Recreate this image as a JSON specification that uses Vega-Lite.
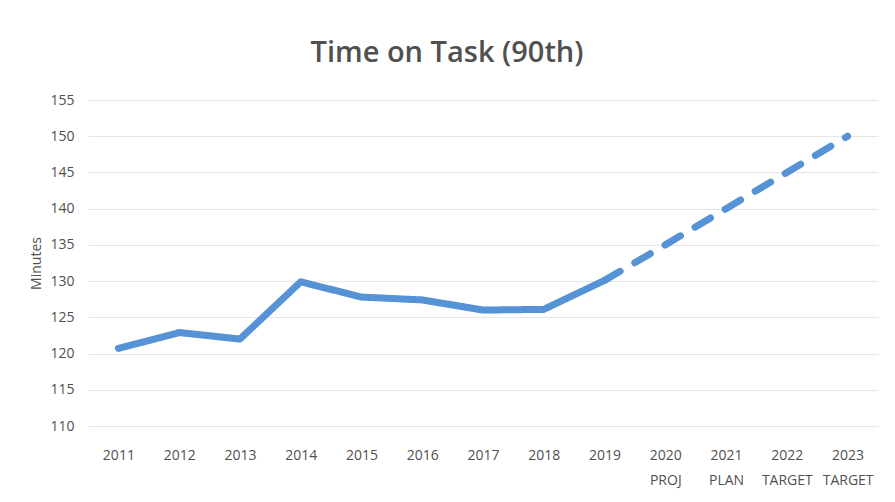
{
  "$schema": "https://vega.github.io/schema/vega-lite/v6.json",
  "width": 790,
  "height": 326,
  "autosize": {"type": "none"},
  "padding": {"left": 88, "top": 100, "right": 17, "bottom": 76},
  "background": "white",
  "title": {
    "text": "Time on Task (90th)",
    "fontSize": 29,
    "font": "Open Sans",
    "fontWeight": 600,
    "color": "#505050",
    "anchor": "middle",
    "dx": -36,
    "offset": 25
  },
  "data": {
    "values": [
      {"year": "2011", "minutes": 120.7, "segment": "actual"},
      {"year": "2012", "minutes": 122.9, "segment": "actual"},
      {"year": "2013", "minutes": 122.0, "segment": "actual"},
      {"year": "2014", "minutes": 129.9, "segment": "actual"},
      {"year": "2015", "minutes": 127.8, "segment": "actual"},
      {"year": "2016", "minutes": 127.4, "segment": "actual"},
      {"year": "2017", "minutes": 126.0, "segment": "actual"},
      {"year": "2018", "minutes": 126.1, "segment": "actual"},
      {"year": "2019", "minutes": 130.1, "segment": "actual"},
      {"year": "2019", "minutes": 130.1, "segment": "projected"},
      {"year": "2020 PROJ", "minutes": 135.0, "segment": "projected"},
      {"year": "2021 PLAN", "minutes": 140.0, "segment": "projected"},
      {"year": "2022 TARGET", "minutes": 145.0, "segment": "projected"},
      {"year": "2023 TARGET", "minutes": 150.0, "segment": "projected"}
    ]
  },
  "mark": {"type": "line", "strokeWidth": 7, "color": "#5593d6", "strokeCap": "round", "strokeJoin": "round"},
  "encoding": {
    "x": {
      "field": "year",
      "type": "ordinal",
      "sort": null,
      "scale": {"type": "point", "padding": 0.5},
      "axis": {
        "title": null,
        "labelAngle": 0,
        "labelExpr": "split(datum.label, ' ')",
        "labelFont": "Open Sans",
        "labelFontSize": 14,
        "labelColor": "#505050",
        "labelPadding": 22,
        "labelLineHeight": 25,
        "domain": false,
        "ticks": false,
        "grid": false
      }
    },
    "y": {
      "field": "minutes",
      "type": "quantitative",
      "scale": {"domain": [110, 155], "nice": false, "zero": false},
      "axis": {
        "title": "Minutes",
        "titleFont": "Open Sans",
        "titleFontWeight": "normal",
        "titleFontSize": 14,
        "titleColor": "#505050",
        "titlePadding": 6,
        "values": [110, 115, 120, 125, 130, 135, 140, 145, 150, 155],
        "labelFont": "Open Sans",
        "labelFontSize": 14,
        "labelColor": "#505050",
        "labelPadding": 14,
        "domain": false,
        "ticks": false,
        "gridColor": "#e6e6e6",
        "gridWidth": 1
      }
    },
    "strokeDash": {
      "field": "segment",
      "type": "nominal",
      "scale": {"domain": ["actual", "projected"], "range": [[1, 0], [18, 17]]},
      "legend": null
    }
  },
  "config": {"view": {"stroke": null}}
}
